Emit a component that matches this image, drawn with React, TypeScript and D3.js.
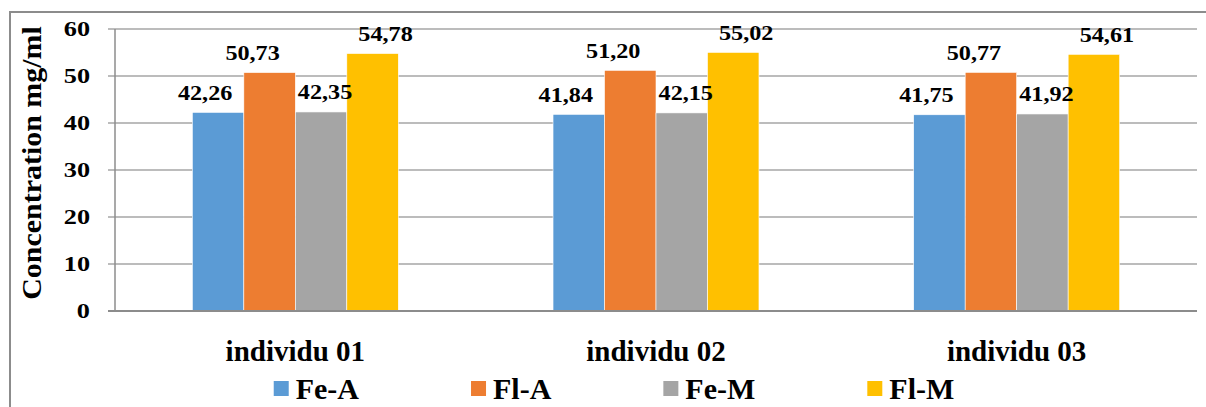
import React, { useEffect, useRef } from "react";
import * as d3 from "d3";

const categories = ["individu 01", "individu 02", "individu 03"];
const seriesNames = ["Fe-A", "Fl-A", "Fe-M", "Fl-M"];
const feA = [42.26, 41.84, 41.75];
const flA = [50.73, 51.2, 50.77];
const feM = [42.35, 42.15, 41.92];
const flM = [54.78, 55.02, 54.61];
const seriesValues = [feA, flA, feM, flM];
const colors = ["#5B9BD5", "#ED7D31", "#A5A5A5", "#FFC000"];
const yTicks = [0, 10, 20, 30, 40, 50, 60];
const labelDx = [-13, -17, 4, 13];

const W = 1206;
const H = 407;
const FONT = "'Liberation Serif', 'Times New Roman', serif";

export default function App() {
  const ref = useRef<SVGSVGElement>(null);

  useEffect(() => {
    const svg = d3.select(ref.current);
    svg.selectAll("*").remove();

    const left = 115, right = 1197, top = 29, bottom = 311;

    // outer border
    svg.append("rect").attr("x", 10).attr("y", 12).attr("width", 1210).attr("height", 420)
      .attr("fill", "#fff").attr("stroke", "#8c8c8c").attr("stroke-width", 2);

    const y = d3.scaleLinear().domain([0, 60]).range([bottom, top]);
    const x0 = d3.scaleBand<string>().domain(categories).range([left, right])
      .paddingInner(0.429).paddingOuter(0.2145);
    const x1 = d3.scaleBand<string>().domain(seriesNames).range([0, x0.bandwidth()]);

    // gridlines and tick marks
    const grid = svg.append("g");
    yTicks.forEach((t) => {
      if (t === 0) return;
      grid.append("line").attr("x1", left - 7).attr("x2", right)
        .attr("y1", y(t)).attr("y2", y(t))
        .attr("stroke", "#a6a6a6").attr("stroke-width", 1.5);
    });
    // y axis line
    svg.append("line").attr("x1", left).attr("x2", left).attr("y1", top).attr("y2", bottom)
      .attr("stroke", "#8c8c8c").attr("stroke-width", 1.5);

    // tick labels
    yTicks.forEach((t) => {
      svg.append("g").attr("transform", `translate(${90},${y(t) + 7}) scale(1.25,1)`)
        .append("text").attr("text-anchor", "end").attr("font-family", FONT)
        .attr("font-weight", "bold").attr("font-size", 21).attr("fill", "#000").text(String(t));
    });

    // bars
    categories.forEach((c, ci) => {
      seriesNames.forEach((s, si) => {
        const v = seriesValues[si][ci];
        const bx = (x0(c) as number) + (x1(s) as number);
        svg.append("rect").attr("x", bx).attr("y", y(v))
          .attr("width", x1.bandwidth()).attr("height", y(0) - y(v))
          .attr("fill", colors[si]).attr("stroke", "#ffffff").attr("stroke-width", 0.6);
      });
    });

    // x axis line
    svg.append("line").attr("x1", left - 7).attr("x2", right).attr("y1", bottom).attr("y2", bottom)
      .attr("stroke", "#8c8c8c").attr("stroke-width", 2);

    // data labels
    categories.forEach((c, ci) => {
      seriesNames.forEach((s, si) => {
        const v = seriesValues[si][ci];
        const cx = (x0(c) as number) + (x1(s) as number) + x1.bandwidth() / 2 + labelDx[si];
        svg.append("g").attr("transform", `translate(${cx},${y(v) - 12.5}) scale(1.1,1)`)
          .append("text").attr("text-anchor", "middle").attr("font-family", FONT)
          .attr("font-weight", "bold").attr("font-size", 22).attr("fill", "#000")
          .text(v.toFixed(2).replace(".", ","));
      });
    });

    // category labels
    categories.forEach((c) => {
      svg.append("text").attr("x", (x0(c) as number) + x0.bandwidth() / 2).attr("y", 361)
        .attr("text-anchor", "middle").attr("font-family", FONT).attr("font-weight", "bold")
        .attr("font-size", 29).attr("fill", "#000").text(c);
    });

    // y title
    svg.append("g").attr("transform", `translate(${41},${163}) rotate(-90) scale(1.07,1)`)
      .append("text").attr("text-anchor", "middle").attr("font-family", FONT)
      .attr("font-weight", "bold").attr("font-size", 28).attr("fill", "#000")
      .text("Concentration mg/ml");

    // legend
    const leg = svg.append("g");
    const items: { g: any; w: number }[] = [];
    seriesNames.forEach((s, si) => {
      const g = leg.append("g");
      g.append("rect").attr("x", 0).attr("y", -18).attr("width", 15).attr("height", 15)
        .attr("fill", colors[si]);
      const t = g.append("text").attr("x", 22).attr("y", 0).attr("font-family", FONT)
        .attr("font-weight", "bold").attr("font-size", 30).attr("fill", "#000").text(s);
      const tw = (t.node() as SVGTextElement).getComputedTextLength();
      items.push({ g, w: 22 + tw });
    });
    const gap = 112;
    const total = items.reduce((a, b) => a + b.w, 0) + gap * (items.length - 1);
    let lx = 614 - total / 2;
    items.forEach((it) => {
      it.g.attr("transform", `translate(${lx},${399})`);
      lx += it.w + gap;
    });
  }, []);

  return (
    <svg ref={ref} width={W} height={H}
      style={{ position: "absolute", left: 0, top: 0, background: "#fff" }} />
  );
}
